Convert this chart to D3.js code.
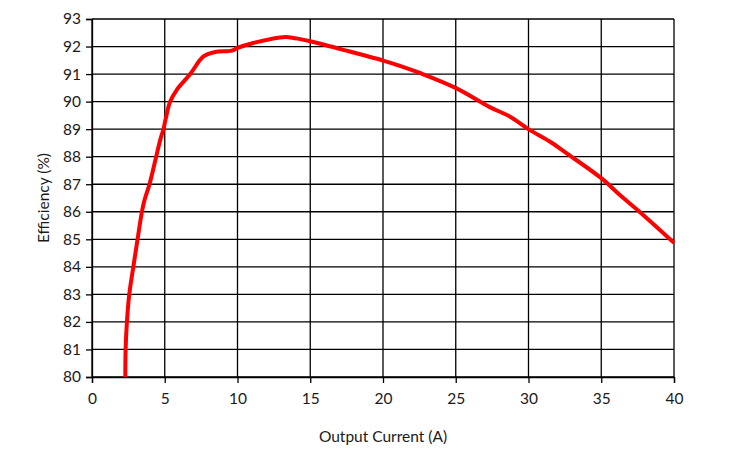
<!DOCTYPE html>
<html>
<head>
<meta charset="utf-8">
<script src="https://cdn.jsdelivr.net/npm/d3@7"></script>
<style>
  body { margin: 0; background: #fff; }
  svg text { font-family: Lato, "Open Sans", sans-serif; fill: #1a1a1a; }
</style>
</head>
<body>
<div id="chart"></div>
<script>
// output current (A) vs efficiency (%)
const current = [2.29, 2.31, 2.4, 2.56, 2.84, 3.13, 3.43, 3.61, 3.95, 4.41, 4.69, 4.91, 5.05, 5.37, 5.83, 6.75,
  7.66, 8.46, 9.61, 10.0, 11.09, 12.92, 13.5, 14.3, 15.0, 17.27, 19.95, 21.16, 22.53, 25.02, 27.34,
  28.71, 29.99, 31.46, 32.6, 35.0, 36.3, 37.63, 40.0];
const efficiency = [80.0, 81.0, 82.0, 83.0, 84.0, 85.0, 86.0, 86.43, 87.0, 88.0, 88.61, 89.0, 89.34, 90.0, 90.43, 91.0,
  91.64, 91.8, 91.85, 91.95, 92.13, 92.33, 92.34, 92.27, 92.19, 91.88, 91.5, 91.3, 91.04, 90.49, 89.8,
  89.46, 89.0, 88.55, 88.13, 87.22, 86.6, 86.0, 84.87];
const xTicks = [0, 5, 10, 15, 20, 25, 30, 35, 40];
const yTicks = [80, 81, 82, 83, 84, 85, 86, 87, 88, 89, 90, 91, 92, 93];

const W = 733, H = 451;
const margin = { left: 92, right: 59, top: 19, bottom: 74 };

const svg = d3.select("#chart").append("svg")
    .attr("width", W)
    .attr("height", H);

const x = d3.scaleLinear().domain([0, 40]).range([margin.left, W - margin.right]);
const y = d3.scaleLinear().domain([80, 93]).range([H - margin.bottom, margin.top]);

// grid
svg.append("g").selectAll("line.v")
    .data(xTicks).enter().append("line")
    .attr("x1", d => x(d)).attr("x2", d => x(d))
    .attr("y1", y(93)).attr("y2", y(80))
    .attr("stroke", "#000").attr("stroke-width", 1.3);
svg.append("g").selectAll("line.h")
    .data(yTicks).enter().append("line")
    .attr("x1", x(0)).attr("x2", x(40))
    .attr("y1", d => y(d)).attr("y2", d => y(d))
    .attr("stroke", "#000").attr("stroke-width", 1.3);

// axes
const xAxis = svg.append("g")
    .attr("transform", `translate(0,${y(80)})`)
    .call(d3.axisBottom(x).tickValues(xTicks).tickSize(6).tickPadding(10));
const yAxis = svg.append("g")
    .attr("transform", `translate(${x(0)},0)`)
    .call(d3.axisLeft(y).tickValues(yTicks).tickSize(6).tickPadding(5));
[xAxis, yAxis].forEach(a => {
    a.select(".domain").attr("stroke", "#000").attr("stroke-width", 1.3);
    a.selectAll(".tick line").attr("stroke", "#000").attr("stroke-width", 1.3);
    a.selectAll(".tick text").attr("font-size", 15.5).attr("fill", "#1a1a1a");
});

// curve
const pts = current.map((c, i) => [c, efficiency[i]]);
svg.append("path")
    .datum(pts)
    .attr("fill", "none")
    .attr("stroke", "#ff0000")
    .attr("stroke-width", 4)
    .attr("stroke-linejoin", "round")
    .attr("d", d3.line().x(d => x(d[0])).y(d => y(d[1])).curve(d3.curveCatmullRom));

// titles
svg.append("text")
    .attr("x", (x(0) + x(40)) / 2)
    .attr("y", 442)
    .attr("text-anchor", "middle")
    .attr("font-size", 15.5)
    .text("Output Current (A)");
svg.append("text")
    .attr("transform", `translate(49,${(y(80) + y(93)) / 2}) rotate(-90)`)
    .attr("text-anchor", "middle")
    .attr("font-size", 15.5)
    .text("Efficiency (%)");
</script>
</body>
</html>
